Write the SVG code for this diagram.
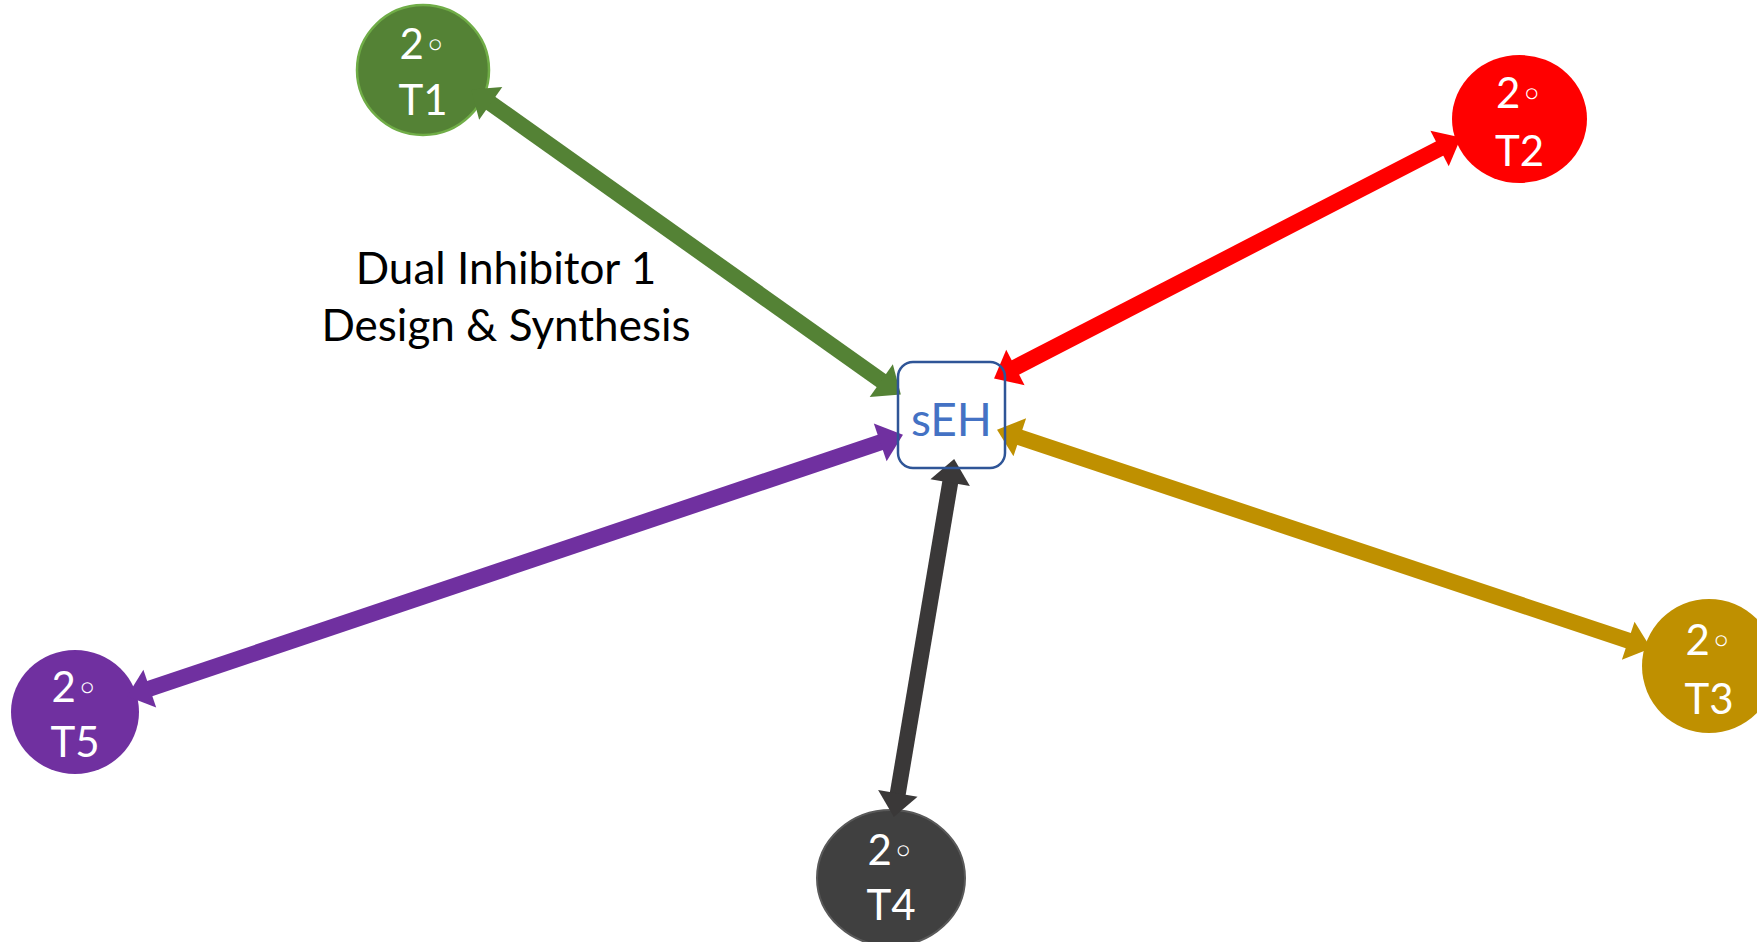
<svg xmlns="http://www.w3.org/2000/svg" width="1757" height="942" viewBox="0 0 1757 942">
  <style>
    .node-text { font-family: Lato, "Liberation Sans", sans-serif; font-size: 42px; fill: #ffffff; text-anchor: middle; }
    .deg { font-family: "DejaVu Sans", sans-serif; font-size: 38px; }
    .label { font-family: Lato, "Liberation Sans", sans-serif; font-size: 44px; fill: #000000; text-anchor: middle; }
    .conn { fill: none; stroke-width: 16; stroke-linecap: butt; }
  </style>
  <defs>
    <marker id="head-green" viewBox="0 0 24 40" refX="8" refY="20" markerWidth="24" markerHeight="40" markerUnits="userSpaceOnUse" orient="auto-start-reverse" overflow="visible">
      <path d="M0,0 L24,20 L0,40 Z" fill="#548235"/>
    </marker>
    <marker id="head-red" viewBox="0 0 24 40" refX="8" refY="20" markerWidth="24" markerHeight="40" markerUnits="userSpaceOnUse" orient="auto-start-reverse" overflow="visible">
      <path d="M0,0 L24,20 L0,40 Z" fill="#FF0000"/>
    </marker>
    <marker id="head-gold" viewBox="0 0 24 40" refX="8" refY="20" markerWidth="24" markerHeight="40" markerUnits="userSpaceOnUse" orient="auto-start-reverse" overflow="visible">
      <path d="M0,0 L24,20 L0,40 Z" fill="#BF9000"/>
    </marker>
    <marker id="head-dark" viewBox="0 0 24 40" refX="8" refY="20" markerWidth="24" markerHeight="40" markerUnits="userSpaceOnUse" orient="auto-start-reverse" overflow="visible">
      <path d="M0,0 L24,20 L0,40 Z" fill="#3A3838"/>
    </marker>
    <marker id="head-purple" viewBox="0 0 24 40" refX="8" refY="20" markerWidth="24" markerHeight="40" markerUnits="userSpaceOnUse" orient="auto-start-reverse" overflow="visible">
      <path d="M0,0 L24,20 L0,40 Z" fill="#7030A0"/>
    </marker>
  </defs>

  <rect width="1757" height="942" fill="#ffffff"/>

  <!-- secondary targets -->
  <g id="t1">
    <ellipse cx="423" cy="70" rx="66" ry="65" fill="#548235" stroke="#70AD47" stroke-width="2.5"/>
    <text class="node-text" x="423" y="59">2<tspan class="deg">◦</tspan></text>
    <text class="node-text" x="423" y="115">T1</text>
  </g>
  <g id="t2">
    <ellipse cx="1519.5" cy="119" rx="67.5" ry="64" fill="#FF0000"/>
    <text class="node-text" x="1519.5" y="108">2<tspan class="deg">◦</tspan></text>
    <text class="node-text" x="1519.5" y="166">T2</text>
  </g>
  <g id="t3">
    <ellipse cx="1709" cy="666" rx="67" ry="67" fill="#BF9000"/>
    <text class="node-text" x="1709" y="655">2<tspan class="deg">◦</tspan></text>
    <text class="node-text" x="1709" y="714">T3</text>
  </g>
  <g id="t4">
    <ellipse cx="891" cy="878" rx="74" ry="68" fill="#404040" stroke="#595959" stroke-width="2"/>
    <text class="node-text" x="891" y="865">2<tspan class="deg">◦</tspan></text>
    <text class="node-text" x="891" y="920">T4</text>
  </g>
  <g id="t5">
    <ellipse cx="75" cy="712" rx="64" ry="62" fill="#7030A0"/>
    <text class="node-text" x="75" y="702">2<tspan class="deg">◦</tspan></text>
    <text class="node-text" x="75" y="757">T5</text>
  </g>

  <!-- double-headed links between sEH and each target -->
  <g id="connectors">
    <path class="conn" d="M484.2,98.7 L887.8,385.3" stroke="#548235" marker-start="url(#head-green)" marker-end="url(#head-green)"/>
    <path class="conn" d="M1008.3,371.1 L1446.7,144.9" stroke="#FF0000" marker-start="url(#head-red)" marker-end="url(#head-red)"/>
    <path class="conn" d="M1012.2,434.8 L1635.8,643.2" stroke="#BF9000" marker-start="url(#head-gold)" marker-end="url(#head-gold)"/>
    <path class="conn" d="M951.5,474.8 L896.5,801.2" stroke="#3A3838" marker-start="url(#head-dark)" marker-end="url(#head-dark)"/>
    <path class="conn" d="M887.8,439.8 L142.2,691.2" stroke="#7030A0" marker-start="url(#head-purple)" marker-end="url(#head-purple)"/>
  </g>

  <!-- central enzyme -->
  <g id="seh">
    <rect x="898" y="362" width="107" height="106" rx="15" ry="15" fill="none" stroke="#2F5597" stroke-width="2.5"/>
    <text x="951.5" y="436" font-family="Lato, 'Liberation Sans', sans-serif" font-size="46" fill="#4472C4" text-anchor="middle">sEH</text>
  </g>

  <g id="caption">
    <text class="label" x="506" y="284">Dual Inhibitor 1</text>
    <text class="label" x="506" y="341">Design &amp; Synthesis</text>
  </g>
</svg>
